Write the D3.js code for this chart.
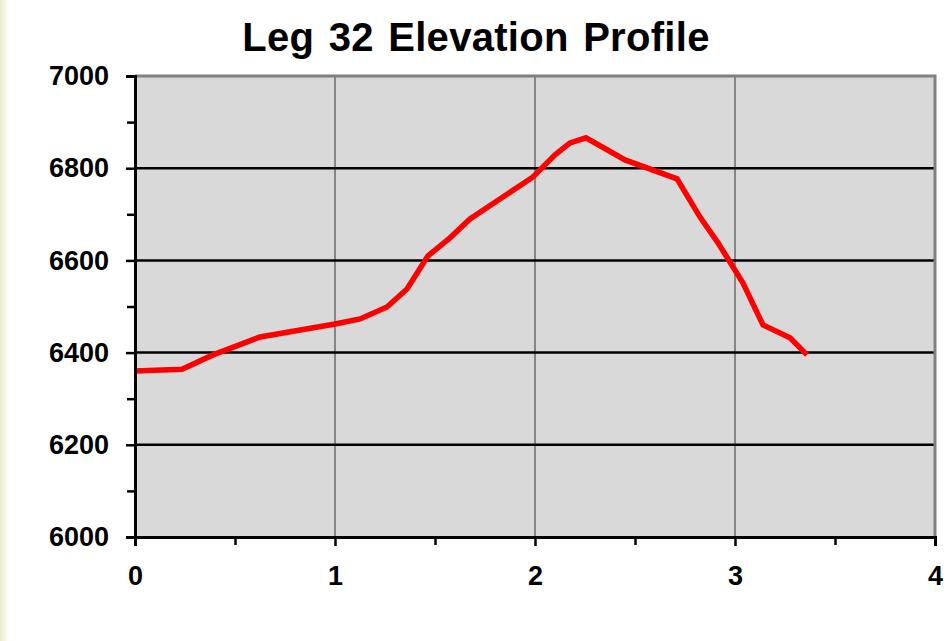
<!DOCTYPE html>
<html>
<head>
<meta charset="utf-8">
<script src="https://cdn.jsdelivr.net/npm/d3@7"></script>
<style>
  body { margin: 0; background: #fff; }
  svg { display: block; }
</style>
</head>
<body>
<div id="chart"></div>
<script>
// distance in miles, elevation in feet
const distance = [0, 0.235, 0.39, 0.625, 1.0, 1.125, 1.26, 1.36, 1.465, 1.575, 1.675,
  1.99, 2.1, 2.175, 2.255, 2.45, 2.71, 2.825, 2.915, 3.04, 3.14, 3.275, 3.36];
const elevation = [6360, 6364, 6395, 6434, 6462, 6473, 6499, 6538, 6610, 6649, 6690,
  6781, 6829, 6855, 6866, 6818, 6777, 6694, 6638, 6551, 6460, 6432, 6395];

const xTicks = [0, 1, 2, 3, 4];
const xMinor = [0.5, 1.5, 2.5, 3.5];
const yTicks = [6000, 6200, 6400, 6600, 6800, 7000];
const yMinor = [6100, 6300, 6500, 6700, 6900];
const title = "Leg 32 Elevation Profile";

const width = 948, height = 641;
const plot = { left: 135, right: 935, top: 76, bottom: 537 };

const svg = d3.select("#chart").append("svg")
  .attr("width", width)
  .attr("height", height);

// faint beige strip on the left edge
const grad = svg.append("defs").append("linearGradient")
  .attr("id", "edge")
  .attr("x1", 0).attr("x2", 1);
grad.append("stop").attr("offset", 0).attr("stop-color", "#eee9c8");
grad.append("stop").attr("offset", 1).attr("stop-color", "#ffffff");
svg.append("rect").attr("x", 0).attr("y", 0).attr("width", 9).attr("height", height)
  .attr("fill", "url(#edge)");

const x = d3.scaleLinear().domain([0, 4]).range([plot.left, plot.right]);
const y = d3.scaleLinear().domain([6000, 7000]).range([plot.bottom, plot.top]);

// plot background
svg.append("rect")
  .attr("x", plot.left).attr("y", plot.top)
  .attr("width", plot.right - plot.left).attr("height", plot.bottom - plot.top)
  .attr("fill", "#d9d9d9");

// vertical gridlines (gray)
svg.append("g").selectAll("line")
  .data(xTicks.filter(d => d > 0 && d < 4))
  .enter().append("line")
  .attr("x1", d => x(d)).attr("x2", d => x(d))
  .attr("y1", plot.top).attr("y2", plot.bottom)
  .attr("stroke", "#868686").attr("stroke-width", 2);

// horizontal gridlines (black)
svg.append("g").selectAll("line")
  .data(yTicks.filter(d => d > 6000 && d < 7000))
  .enter().append("line")
  .attr("x1", plot.left).attr("x2", plot.right)
  .attr("y1", d => y(d)).attr("y2", d => y(d))
  .attr("stroke", "#000").attr("stroke-width", 2.5);

// top and right border
svg.append("path")
  .attr("d", `M${plot.left},${plot.top}H${plot.right}V${plot.bottom}`)
  .attr("fill", "none").attr("stroke", "#808080").attr("stroke-width", 3);

// elevation line
const line = d3.line()
  .x((d, i) => x(distance[i]))
  .y(d => y(d));

svg.append("path")
  .datum(elevation)
  .attr("d", line)
  .attr("fill", "none")
  .attr("stroke", "#ff0000")
  .attr("stroke-width", 5.5)
  .attr("stroke-linejoin", "miter");

// y axis
svg.append("g")
  .attr("transform", `translate(${plot.left},0)`)
  .call(d3.axisLeft(y).tickValues(yTicks).tickSize(9).tickPadding(17).tickFormat(d3.format("d")));
svg.append("g")
  .attr("transform", `translate(${plot.left},0)`)
  .call(d3.axisLeft(y).tickValues(yMinor).tickSize(8).tickFormat(""))
  .call(g => g.select(".domain").remove());

// x axis
svg.append("g")
  .attr("transform", `translate(0,${plot.bottom})`)
  .call(d3.axisBottom(x).tickValues(xTicks).tickSize(9).tickPadding(20).tickFormat(d3.format("d")));
svg.append("g")
  .attr("transform", `translate(0,${plot.bottom})`)
  .call(d3.axisBottom(x).tickValues(xMinor).tickSize(8).tickFormat(""))
  .call(g => g.select(".domain").remove());

svg.selectAll(".domain").attr("stroke", "#000").attr("stroke-width", 3);
svg.selectAll(".tick line").attr("stroke", "#000").attr("stroke-width", 2.5);
svg.selectAll(".tick text")
  .attr("fill", "#000")
  .style("font-family", "'Liberation Sans', Arial, sans-serif")
  .style("font-weight", "bold")
  .style("font-size", "27px");

// title
svg.append("text")
  .attr("x", 476)
  .attr("y", 51)
  .attr("text-anchor", "middle")
  .style("font-family", "'Liberation Sans', Arial, sans-serif")
  .style("font-weight", "bold")
  .style("font-size", "40px")
  .style("word-spacing", "3px")
  .style("letter-spacing", "0.3px")
  .text(title);
</script>
</body>
</html>
